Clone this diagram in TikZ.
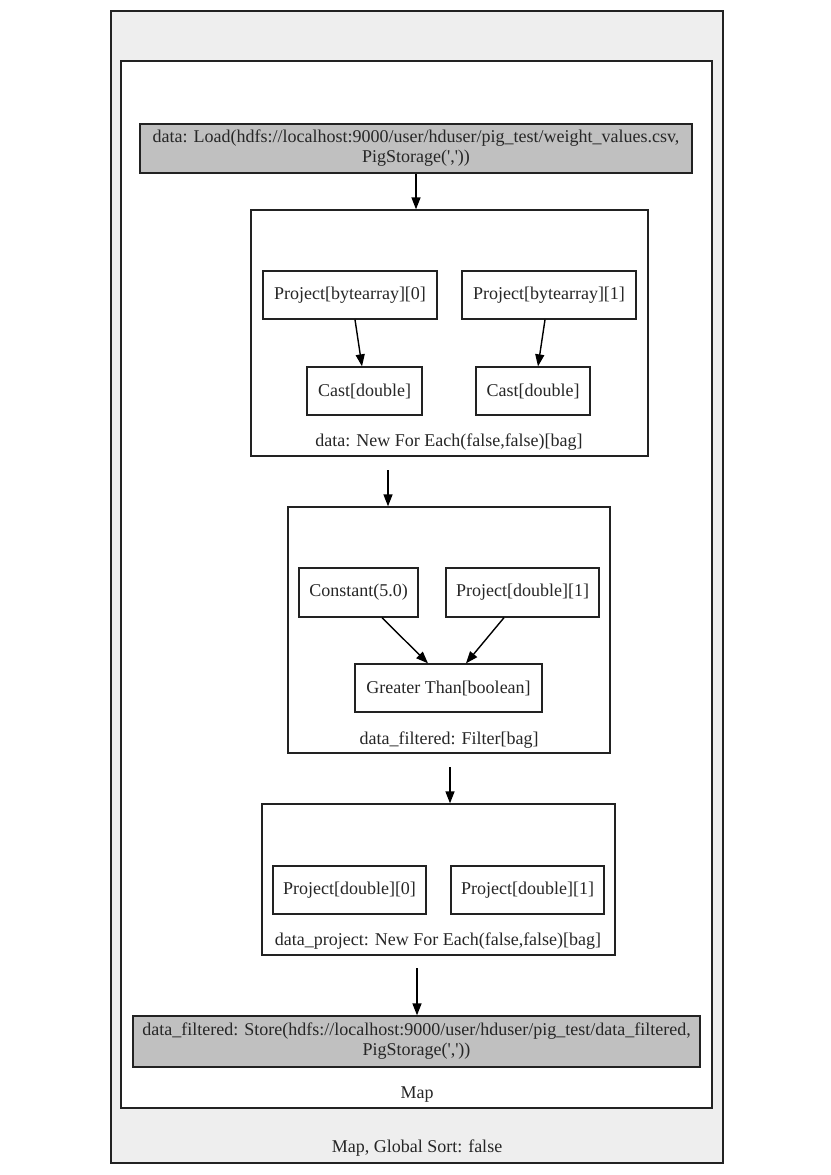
\documentclass[tikz,border=0pt]{standalone}
\usepackage{fontspec}
\setmainfont{Liberation Serif}
\usetikzlibrary{arrows.meta}
\definecolor{outergray}{HTML}{EEEEEE}
\definecolor{iogray}{HTML}{C0C0C0}
\definecolor{linecol}{HTML}{222222}
\tikzset{
 every node/.style={font=\fontsize{18}{20}\selectfont, text=black!85},
 opbox/.style={draw=linecol, line width=1.3pt, fill=white, inner sep=0pt, minimum height=48pt},
 iobox/.style={draw=linecol, line width=1.3pt, fill=iogray, inner sep=0pt, align=center},
 cluster/.style={draw=linecol, line width=1.3pt, inner sep=0pt},
 lbl/.style={inner sep=0pt},
 conn/.style={line width=1.4pt, draw=black, -{Triangle[length=12pt,width=9pt]}},
}
\newcommand{\sq}{\textquotesingle}
\begin{document}
\begin{tikzpicture}[x=1pt,y=-1pt]
\useasboundingbox (0,0) rectangle (830,1175);
% clusters
\node[cluster, fill=outergray, minimum width=612pt, minimum height=1152pt] (outer) at (417,587) {};
\node[cluster, fill=white, minimum width=591pt, minimum height=1047pt] (map) at (416.5,584.5) {};
\node[cluster, fill=white, minimum width=397pt, minimum height=246pt] (fe1) at (449.5,333) {};
\node[cluster, fill=white, minimum width=322pt, minimum height=246pt] (filt) at (449,630) {};
\node[cluster, fill=white, minimum width=353pt, minimum height=151pt] (fe2) at (438.5,879.5) {};
% cluster labels
\node[lbl] (fe1lbl) at (449,442) {data: New For Each(false,false)[bag]};
\node[lbl] (filtlbl) at (449,740) {data\_filtered: Filter[bag]};
\node[lbl] (fe2lbl) at (438,941) {data\_project: New For Each(false,false)[bag]};
\node[lbl] (maplbl) at (417,1095) {Map};
\node[lbl] (outerlbl) at (417,1148) {Map, Global Sort: false};
% io nodes
\node[iobox, minimum width=552pt, minimum height=49pt] (load) at (416,148.5)
 {data: Load(hdfs://localhost:9000/user/hduser/pig\_test/weight\_values.csv,\\PigStorage(\sq,\sq))};
\node[iobox, minimum width=567pt, minimum height=51pt] (store) at (416.5,1041.5)
 {data\_filtered: Store(hdfs://localhost:9000/user/hduser/pig\_test/data\_filtered,\\PigStorage(\sq,\sq))};
% inner nodes
\node[opbox, minimum width=174pt] (pb0) at (350,295) {Project[bytearray][0]};
\node[opbox, minimum width=174pt] (pb1) at (549,295) {Project[bytearray][1]};
\node[opbox, minimum width=115pt] (cast0) at (364.5,391) {Cast[double]};
\node[opbox, minimum width=114pt] (cast1) at (533,391) {Cast[double]};
\node[opbox, minimum width=119pt, minimum height=49pt] (const) at (358.5,592.5) {Constant(5.0)};
\node[opbox, minimum width=153pt, minimum height=49pt] (pd1a) at (522.5,592.5) {Project[double][1]};
\node[opbox, minimum width=187pt] (gt) at (448.5,688) {Greater Than[boolean]};
\node[opbox, minimum width=153pt] (pd0) at (349.5,890) {Project[double][0]};
\node[opbox, minimum width=153pt] (pd1b) at (527.5,890) {Project[double][1]};
% free ends
\coordinate (c1) at (388,470);
\coordinate (c2) at (450,767);
\coordinate (c3) at (417,968);
% connectors
\draw[conn] (load.south) -- (load.south |- fe1.north);
\draw[conn] ([xshift=5pt]pb0.south) -- ([xshift=-2.5pt]cast0.north);
\draw[conn] ([xshift=-4pt]pb1.south) -- ([xshift=5pt]cast1.north);
\draw[conn] (c1) -- (c1 |- filt.north);
\draw[conn] ([xshift=23.5pt]const.south) -- ([xshift=-20.5pt]gt.north);
\draw[conn] ([xshift=-18.5pt]pd1a.south) -- ([xshift=17.5pt]gt.north);
\draw[conn] (c2) -- (c2 |- fe2.north);
\draw[conn] (c3) -- (c3 |- store.north);
\end{tikzpicture}
\end{document}
